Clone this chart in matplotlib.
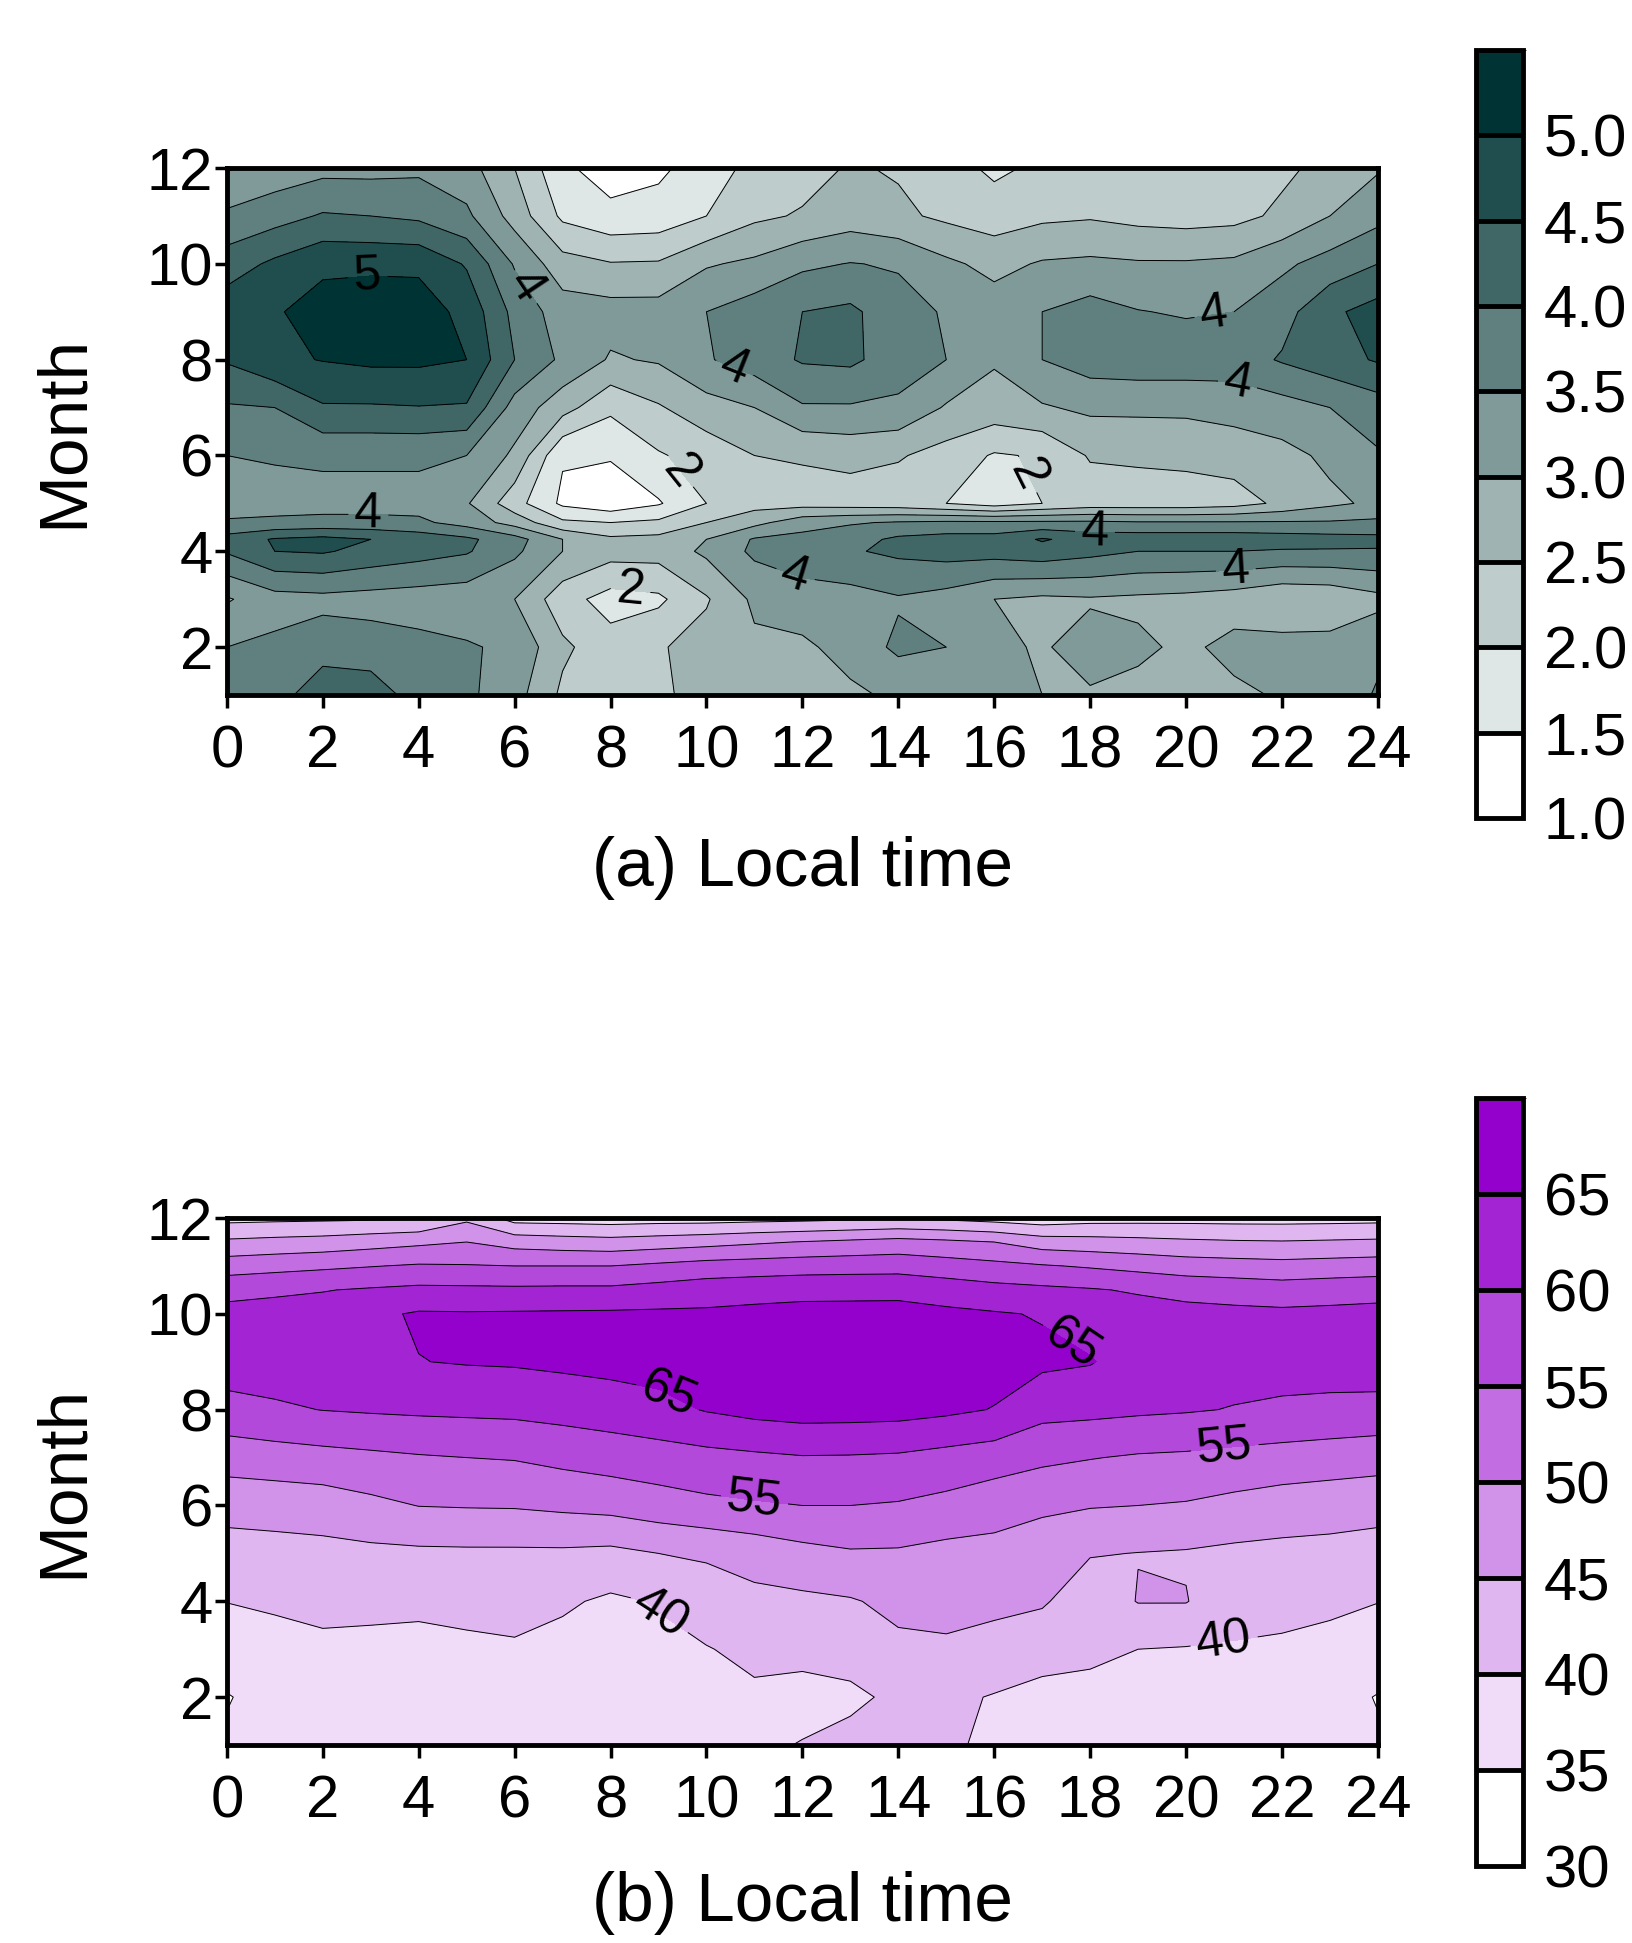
import numpy as np
import matplotlib.pyplot as plt
from matplotlib.colors import ListedColormap, BoundaryNorm

plt.rcParams['font.family'] = ['Liberation Sans', 'DejaVu Sans']

hours = list(range(25))

# panel (a) : rows by month, columns = local time 0..24
months_a = [1, 2, 3, 4, 4.25, 4.6, 5, 6, 7, 8, 9, 10, 11, 12]
a_m01 = [3.6, 3.8, 4.3, 4.25, 3.8, 3.6, 3.2, 2.4, 2.2, 2.45, 2.6, 2.8, 2.7, 2.9, 3.1, 3.1, 3.05, 3.0, 2.95, 2.85, 2.8, 2.9, 3.05, 3.2, 3.55]
a_m02 = [3.5, 3.6, 3.8, 3.75, 3.65, 3.55, 3.4, 2.6, 2.2, 2.45, 2.7, 2.9, 2.9, 3.2, 3.6, 3.5, 3.1, 2.95, 3.2, 3.1, 2.9, 3.15, 3.2, 3.2, 3.4]
a_m03 = [2.95, 3.3, 3.35, 3.3, 3.25, 3.2, 3.0, 2.2, 1.8, 1.9, 2.45, 3.1, 3.3, 3.3, 3.45, 3.3, 3.0, 2.9, 2.95, 2.9, 2.85, 2.75, 2.55, 2.6, 2.85]
a_m04 = [4.05, 4.5, 4.55, 4.35, 4.2, 4.05, 3.6, 3.0, 2.7, 2.7, 3.1, 3.6, 3.75, 3.95, 4.1, 4.2, 4.2, 4.3, 4.15, 4.0, 4.0, 4.0, 3.95, 3.95, 3.95]
a_m04b = [4.2, 4.55, 4.65, 4.5, 4.3, 4.1, 3.7, 3.0, 2.6, 2.65, 3.0, 3.55, 3.65, 3.8, 4.1, 4.2, 4.2, 4.55, 4.3, 4.3, 4.3, 4.3, 4.25, 4.2, 4.15]
a_m04c = [3.55, 3.6, 3.65, 3.65, 3.6, 3.3, 2.8, 2.1, 2.0, 2.1, 2.5, 2.85, 3.3, 3.45, 3.55, 3.6, 3.6, 3.6, 3.6, 3.55, 3.55, 3.55, 3.55, 3.55, 3.6]
a_m05 = [3.3, 3.3, 3.3, 3.3, 3.3, 3.05, 2.2, 1.4, 1.15, 1.45, 2.0, 2.3, 2.3, 2.25, 2.2, 2.0, 1.75, 2.0, 2.2, 2.2, 2.2, 2.3, 2.6, 2.9, 3.1]
a_m06 = [3.5, 3.55, 3.6, 3.6, 3.6, 3.5, 2.9, 1.55, 1.55, 1.95, 2.2, 2.5, 2.55, 2.65, 2.55, 2.3, 1.95, 2.05, 2.55, 2.6, 2.65, 2.7, 2.85, 3.1, 3.45]
a_m07 = [3.95, 4.0, 4.45, 4.45, 4.48, 4.45, 3.3, 2.7, 2.1, 2.45, 2.8, 3.0, 3.45, 3.45, 3.4, 2.95, 2.8, 2.95, 3.1, 3.1, 3.1, 3.2, 3.3, 3.5, 3.75]
a_m08 = [4.55, 4.9, 5.02, 5.1, 5.1, 5.0, 4.0, 3.4, 2.95, 3.05, 3.45, 3.75, 4.05, 4.1, 3.75, 3.5, 3.05, 3.5, 3.75, 3.8, 3.8, 3.75, 4.05, 4.3, 4.55]
a_m09 = [4.8, 4.95, 5.2, 5.3, 5.25, 4.85, 3.85, 3.25, 3.2, 3.2, 3.5, 3.75, 4.0, 4.1, 3.7, 3.45, 3.25, 3.5, 3.7, 3.52, 3.45, 3.5, 3.8, 4.4, 4.7]
a_m10 = [4.25, 4.6, 4.9, 4.9, 4.9, 4.45, 3.45, 2.7, 2.53, 2.55, 2.95, 3.1, 3.4, 3.52, 3.45, 3.1, 2.85, 3.05, 3.1, 3.05, 3.05, 3.1, 3.4, 3.7, 4.0]
a_m11 = [3.6, 3.8, 4.05, 4.0, 3.9, 3.6, 2.8, 1.9, 1.65, 1.7, 2.0, 2.4, 2.55, 2.75, 2.6, 2.4, 2.25, 2.4, 2.45, 2.35, 2.3, 2.35, 2.6, 3.0, 3.35]
a_m12 = [2.95, 3.2, 3.35, 3.35, 3.4, 3.2, 2.5, 1.6, 1.25, 1.4, 1.75, 2.15, 2.3, 2.55, 2.45, 2.2, 1.9, 2.1, 2.2, 2.25, 2.25, 2.3, 2.4, 2.65, 2.95]

# panel (b)
months_b = [1, 2, 3, 4, 5, 6, 7, 8, 9, 10, 10.5, 11, 11.5, 12]
b_m01 = [35.5, 36, 36.5, 36.5, 36.5, 36.5, 36.5, 37, 37, 37.5, 38, 39.2, 40.2, 41.5, 42.5, 41.2, 38.5, 38, 37.5, 37, 37, 36.8, 36.5, 36, 35.5]
b_m02 = [34.8, 36.3, 37.5, 37.5, 37, 37.5, 37.5, 37.5, 37.5, 38, 38.5, 39.3, 38.5, 39, 41, 41, 39.7, 38.8, 38.6, 38, 37.5, 37.5, 37.5, 36.5, 34.8]
b_m03 = [37, 38, 39, 38.8, 38.5, 39, 39.4, 38.5, 38.5, 39, 39.8, 41, 41.3, 42, 44, 44.2, 43.5, 41.6, 41, 40, 39.7, 39.6, 39.3, 38.5, 37.5]
b_m04 = [40.1, 40.8, 41.3, 41.2, 41.1, 41.5, 41.8, 40.7, 39.2, 40.3, 42.2, 43.7, 44, 44.6, 46.2, 46.7, 46, 45.6, 42, 45.2, 45.2, 41.8, 41.4, 41, 40.1]
b_m05 = [43, 43.3, 43.6, 43.9, 44.1, 44.2, 44.2, 44.2, 43.8, 45, 45.7, 47, 48.5, 49.5, 49.4, 48.5, 48.5, 47, 45.3, 44.9, 44.6, 44, 43.7, 43.5, 43]
b_m06 = [46.7, 47, 47.4, 48.8, 50.1, 50.3, 50.4, 51, 51.6, 52.8, 53.9, 54.5, 55, 55, 54.6, 53.6, 52, 51, 50.3, 50, 49.6, 48.6, 47.7, 47.2, 46.7]
b_m07 = [52.2, 52.8, 53.4, 54, 54.6, 55, 55.3, 56.3, 57.2, 57.9, 58.5, 59.1, 59.7, 59.6, 59.3, 58.3, 57.4, 56, 55.2, 54.5, 54.2, 53.6, 53, 52.5, 52]
b_m08 = [58.3, 59.3, 60.1, 60.5, 60.8, 61, 61.2, 61.8, 62.5, 63.5, 65.3, 66.5, 67.1, 67, 66.8, 66, 64.8, 61.6, 61.3, 60.8, 60.4, 59.8, 59.4, 58.9, 58.5]
b_m09 = [62.5, 62.5, 62.5, 64, 64.9, 65.3, 65.5, 66, 66.5, 67, 67.3, 67.5, 67.8, 68, 68, 67.5, 67, 66, 65.3, 63, 62, 61.8, 61.5, 62, 62.5]
b_m10 = [61.5, 61.8, 62, 64, 65.5, 65.4, 65.5, 65.6, 65.7, 65.8, 65.8, 66.2, 66.5, 66.5, 66.5, 66, 65.4, 64.7, 63, 62, 61.5, 61.2, 61, 61.2, 61.5]
b_m10b = [58.5, 59.2, 59.8, 60.5, 61.1, 61, 60.9, 61, 61, 61.8, 62.7, 63.2, 63.6, 63.7, 63.8, 62.7, 61.6, 61, 60.4, 59.5, 58.5, 57.9, 57.3, 57.8, 58.2]
b_m11 = [52.7, 53.4, 54.1, 54.8, 55.5, 55.3, 55, 55, 55, 56, 57, 57.4, 57.8, 58, 58.1, 57.2, 56.3, 55.4, 54.5, 53.5, 52.5, 52.1, 51.7, 52.1, 52.5]
b_m11b = [45.9, 46.5, 47, 48, 49, 50, 48, 47.3, 46.8, 47.5, 48.3, 49.3, 50.2, 51, 51.8, 51, 50, 47.5, 47, 46.5, 45.9, 45.5, 45.3, 45.6, 45.9]
b_m12 = [38.5, 38.8, 39, 39.2, 39.5, 44, 38, 37.8, 37.5, 37.8, 37.8, 38.2, 38.5, 39, 39.5, 39, 38, 37, 38, 38.2, 38.3, 38.2, 38.2, 38.3, 38.5]

levels_a = np.arange(1.0, 5.51, 0.5)
levels_b = np.arange(30, 71, 5)

# contour labels: (level, hour, month)
labels_a = [(5.0, 2.95, 9.6), (3.5, 6.2, 9.5), (3.5, 10.5, 7.6), (2.0, 9.5, 5.7),
            (2.0, 16.9, 5.7), (3.5, 20.6, 8.85), (3.5, 21.05, 7.42), (3.5, 2.95, 4.6),
            (4.0, 18.1, 4.4), (2.0, 8.4, 3.0), (3.5, 11.8, 3.35), (3.5, 21.05, 3.45)]
labels_b = [(65, 9.2, 8.3), (65, 17.5, 9.2), (55, 20.8, 7.3), (55, 11.0, 6.1),
            (40, 9.1, 3.85), (40, 20.8, 3.1)]

Za = np.array([a_m01, a_m02, a_m03, a_m04, a_m04b, a_m04c, a_m05, a_m06,
               a_m07, a_m08, a_m09, a_m10, a_m11, a_m12])
Zb = np.array([b_m01, b_m02, b_m03, b_m04, b_m05, b_m06, b_m07, b_m08,
               b_m09, b_m10, b_m10b, b_m11, b_m11b, b_m12])


def ramp(dark, n):
    out = []
    for i in range(n):
        t = i / (n - 1)
        out.append(tuple((1 - t) + t * c / 255.0 for c in dark))
    return out


cmap_a = ListedColormap(ramp((0, 51, 51), 9))
cmap_b = ListedColormap(ramp((148, 0, 204), 8))

fig = plt.figure(figsize=(16.32, 19.43), dpi=100)
ax_a = fig.add_axes([0.139, 0.6423, 0.7053, 0.2712])
ax_b = fig.add_axes([0.139, 0.1019, 0.7053, 0.2712])
cax_a = fig.add_axes([0.9044, 0.579, 0.0288, 0.3953])
cax_b = fig.add_axes([0.9044, 0.0396, 0.0288, 0.3953])


def panel(ax, cax, months, Z, levels, cmap, labs, tickfmt):
    norm = BoundaryNorm(levels, cmap.N)
    cf = ax.contourf(hours, months, Z, levels=levels, cmap=cmap, norm=norm)
    # one line set per level so each label only cuts its own line
    for lev in levels:
        cs = ax.contour(hours, months, Z, levels=[lev], colors='k', linewidths=0.7)
        pts = [(x, y) for l, x, y in labs if l == lev]
        if pts and len(cs.allsegs[0]) > 0:
            ax.clabel(cs, manual=pts, fmt='%.0f', inline=True,
                      fontsize=36, inline_spacing=6)
    ax.set_xlim(0, 24)
    ax.set_ylim(1, 12)
    ax.set_xticks(range(0, 25, 2))
    ax.set_yticks(range(2, 13, 2))
    ax.tick_params(direction='out', length=9, width=2.5, labelsize=43)
    ax.tick_params(axis='x', pad=12)
    ax.tick_params(axis='y', pad=1)
    for s in ax.spines.values():
        s.set_linewidth(3.5)

    cb = fig.colorbar(cf, cax=cax, ticks=levels[:-1], drawedges=True)
    cb.outline.set_linewidth(3.5)
    cb.dividers.set_color('k')
    cb.dividers.set_linewidth(3.5)
    cb.ax.tick_params(length=0, labelsize=43, pad=15)
    cb.ax.set_yticklabels([tickfmt % v for v in levels[:-1]])


panel(ax_a, cax_a, months_a, Za, levels_a, cmap_a, labels_a, '%.1f')
panel(ax_b, cax_b, months_b, Zb, levels_b, cmap_b, labels_b, '%d')

fig.text(0.039, 0.778, 'Month', rotation=90, fontsize=50, ha='center', va='center')
fig.text(0.039, 0.2373, 'Month', rotation=90, fontsize=50, ha='center', va='center')
fig.text(0.492, 0.5535, '(a) Local time', fontsize=50, ha='center', va='center')
fig.text(0.492, 0.004, '(b) Local time', fontsize=50, ha='center', va='bottom')

fig.savefig('out.png', dpi=100)
